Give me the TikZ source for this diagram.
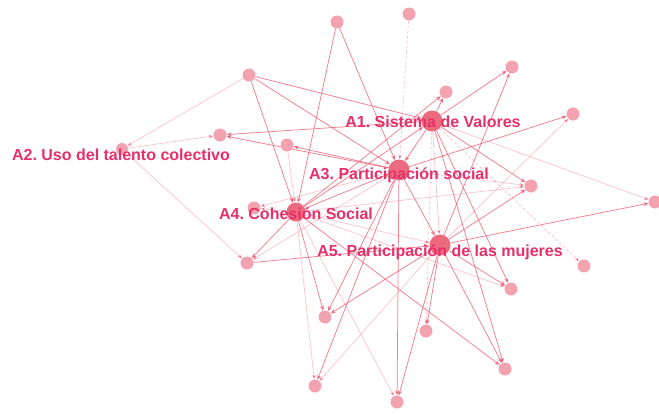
\documentclass[tikz,border=0pt]{standalone}
\usepackage{fontspec}
\usepackage{xcolor}
\usetikzlibrary{arrows.meta,backgrounds}
\newfontfamily\lblfont{Liberation Sans}
\frenchspacing

\definecolor{labelpink}{HTML}{E5306A}
\definecolor{hubpink}{HTML}{EC6A7E}
\definecolor{leafpink}{HTML}{F3A2B0}
\definecolor{edgepink}{HTML}{EC5F74}

\tikzset{
  hub/.style={circle, fill=hubpink, inner sep=0pt, minimum size=21pt},
  leaf/.style={circle, fill=leafpink, inner sep=0pt, minimum size=13pt},
  link/.style={draw=edgepink, line width=0.75pt, draw opacity=0.8,
    -{Stealth[length=5pt,width=4pt]}},
  faint/.style={link, draw opacity=0.35},
  dotted link/.style={faint, dash pattern=on 3pt off 2pt},
  lbl/.style={font=\lblfont\bfseries\fontsize{16}{18}\selectfont,
    text=labelpink, inner sep=0pt}
}

\begin{document}
\begin{tikzpicture}[x=1pt,y=-1pt]
    \useasboundingbox (0,0) rectangle (659,413);

    % Hubs
    \node[hub] (aone) at (432,121) {};
    \node[hub] (athree) at (399,170) {};
    \node[hub, minimum size=19pt] (afour) at (296,212) {};
    \node[hub] (afive) at (440,245) {};
    \node[leaf, minimum size=12pt] (atwo) at (122,149) {};

    % Outer nodes
    \node[leaf] (top1) at (337,22) {};
    \node[leaf] (top2) at (409,14) {};
    \node[leaf] (nw1) at (249,75) {};
    \node[leaf] (ne1) at (512,67) {};
    \node[leaf] (ne2) at (446,92) {};
    \node[leaf] (ne3) at (573,114) {};
    \node[leaf] (w1) at (220,135) {};
    \node[leaf] (w2) at (287,145) {};
    \node[leaf] (e1) at (531,186) {};
    \node[leaf] (e2) at (655,202) {};
    \node[leaf] (w3) at (254,208) {};
    \node[leaf] (sw1) at (247,263) {};
    \node[leaf] (e3) at (584,266) {};
    \node[leaf] (se1) at (511,289) {};
    \node[leaf] (s1) at (325,317) {};
    \node[leaf] (s2) at (426,331) {};
    \node[leaf] (se2) at (505,369) {};
    \node[leaf] (s3) at (315,386) {};
    \node[leaf] (s4) at (397,402) {};

    % Connections
    \begin{scope}[on background layer]
    \draw[link] (nw1) -- (aone);
    \draw[link] (nw1) -- (athree);
    \draw[link] (nw1) -- (afour);
    \draw[faint] (nw1) -- (atwo);
    \draw[link] (top1) -- (afour);
    \draw[link] (top1) -- (athree);
    \draw[dotted link] (top2) -- (athree);
    \draw[link] (afour) -- (ne2);
    \draw[link] (aone) -- (ne2);
    \draw[link] (aone) -- (ne1);
    \draw[link] (afive) -- (ne1);
    \draw[link] (athree) -- (ne3);
    \draw[faint] (afive) -- (ne3);
    \draw[faint] (aone) -- (e2);
    \draw[link] (afive) -- (e2);
    \draw[link] (aone) -- (w1);
    \draw[link] (athree) -- (w1);
    \draw[faint] (atwo) -- (w1);
    \draw[link] (athree) -- (w2);
    \draw[faint] (w2) -- (afour);
    \draw[link] (aone) -- (e1);
    \draw[faint] (athree) -- (e1);
    \draw[link] (afive) -- (e1);
    \draw[faint] (afour) -- (e1);
    \draw[dotted link] (aone) -- (e3);
    \draw[link] (aone) -- (se1);
    \draw[link] (afive) -- (se1);
    \draw[faint] (afour) -- (se1);
    \draw[link] (aone) -- (se2);
    \draw[link] (afive) -- (se2);
    \draw[link] (afour) -- (se2);
    \draw[link] (afive) -- (s2);
    \draw[dotted link] (aone) -- (s2);
    \draw[link] (afive) -- (s1);
    \draw[link] (afour) -- (s1);
    \draw[link] (athree) -- (s1);
    \draw[faint] (afour) -- (s3);
    \draw[link] (athree) -- (s3);
    \draw[faint] (afive) -- (s3);
    \draw[link] (athree) -- (s4);
    \draw[link] (afive) -- (s4);
    \draw[faint] (afour) -- (s4);
    \draw[link] (afour) -- (sw1);
    \draw[link] (sw1) -- (afive);
    \draw[faint] (athree) -- (sw1);
    \draw[faint] (atwo) -- (sw1);
    \draw[faint] (afour) -- (w3);
    \draw[faint] (athree) -- (w3);
    \draw[link] (aone) -- (athree);
    \draw[link] (afour) -- (athree);
    \draw[link] (athree) -- (afive);
    \draw[faint] (aone) -- (afive);
    \draw[link] (afour) -- (aone);
    \draw[faint] (afour) -- (afive);
    \end{scope}

    % Labels
    \node[lbl] (lone) at (433,122) {A1. Sistema de Valores};
    \node[lbl] (ltwo) at (121,155) {A2. Uso del talento colectivo};
    \node[lbl] (lthree) at (399,175) {A3. Participación social};
    \node[lbl] (lfour) at (296,214) {A4. Cohesión Social};
    \node[lbl] (lfive) at (440,252) {A5. Participación de las mujeres};
\end{tikzpicture}
\end{document}
